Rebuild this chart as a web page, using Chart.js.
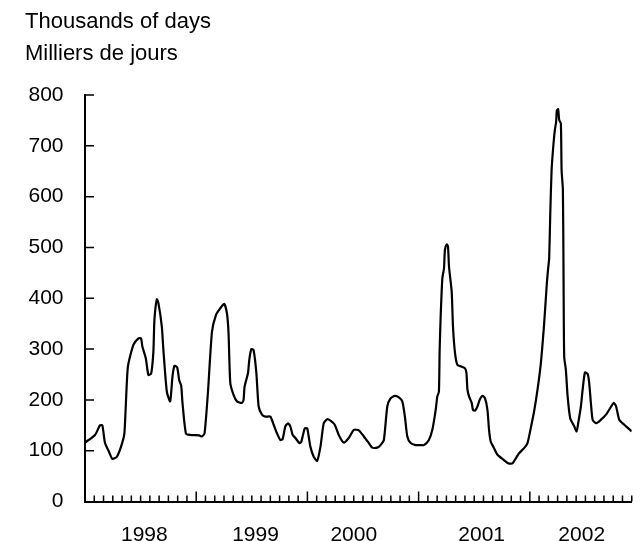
<!DOCTYPE html>
<html>
<head>
<meta charset="utf-8">
<script src="https://cdn.jsdelivr.net/npm/chart.js@4.4.1/dist/chart.umd.min.js"></script>
<style>
html, body { margin: 0; padding: 0; background: #fff; }
#wrap { width: 642px; height: 541px; position: relative; }
</style>
</head>
<body>
<div id="wrap"><canvas id="chart"></canvas></div>
<script>
// Titoli (due lingue).
const TITLE_EN = "Thousands of days";
const TITLE_FR = "Milliers de jours";

// Mesi dall'inizio del 1998 (0 = gennaio 1998).
const MONTHS = [
	0.00, 1.08, 1.62, 1.87, 2.16, 2.59, 2.95, 3.43, 3.89, 4.25, 4.62, 5.22, 5.76, 6.05, 6.19, 6.56, 6.84, 7.14, 7.38, 7.49,
	7.75, 7.92, 8.29, 8.46, 8.83, 9.19, 9.44, 9.65, 9.95, 10.16, 10.38, 10.52, 10.89, 11.35, 12.32, 12.62, 12.90, 13.26, 13.70, 14.13,
	14.59, 15.03, 15.32, 15.49, 15.68, 16.03, 16.40, 16.94, 17.11, 17.22, 17.59, 17.73, 17.95, 18.19, 18.49, 18.74, 19.10, 19.46, 20.00, 20.36,
	20.72, 21.08, 21.33, 21.62, 21.91, 22.16, 22.41, 22.70, 23.14, 23.35, 23.71, 23.97, 24.14, 24.32, 24.68, 25.05, 25.41, 25.76, 26.13, 26.49,
	26.95, 27.38, 27.92, 28.46, 29.01, 29.55, 30.09, 30.63, 31.00, 31.54, 31.89, 32.25, 32.62, 32.97, 33.44, 33.87, 34.24, 34.52, 34.78, 35.14,
	35.68, 36.22, 36.57, 37.11, 37.48, 37.84, 38.02, 38.19, 38.27, 38.38, 38.56, 38.74, 38.84, 39.03, 39.17, 39.28, 39.57, 39.71, 39.93, 40.18,
	40.54, 41.01, 41.16, 41.27, 41.44, 41.73, 41.87, 42.09, 42.35, 42.59, 42.89, 43.17, 43.43, 43.60, 43.78, 44.14, 44.51, 45.11, 45.70, 46.13,
	46.49, 46.84, 47.38, 47.75, 48.11, 48.46, 48.83, 49.19, 49.55, 49.84, 49.98, 50.09, 50.20, 50.35, 50.56, 50.70, 50.84, 50.92, 51.06, 51.17,
	51.35, 51.43, 51.57, 51.64, 51.71, 51.89, 52.08, 52.36, 52.79, 53.05, 53.22, 53.51, 53.70, 53.95, 54.24, 54.41, 54.59, 54.78, 55.14, 55.68,
	56.22, 56.68, 57.05, 57.30, 57.65, 58.19, 58.63, 58.99
];

// Migliaia di giorni persi.
const DAYS = [
	116, 131, 150, 150, 115, 98, 84, 88, 108, 134, 264, 308, 321, 321, 305, 282, 249, 252, 295, 357,
	398, 391, 344, 298, 216, 197, 246, 267, 264, 239, 228, 194, 134, 131, 130, 128, 134, 213, 334, 367,
	380, 389, 370, 331, 233, 210, 197, 194, 200, 226, 253, 279, 300, 298, 253, 187, 171, 167, 167, 151,
	134, 121, 123, 148, 154, 148, 131, 125, 115, 118, 144, 144, 128, 108, 88, 80, 108, 154, 162, 159,
	151, 131, 116, 125, 141, 140, 128, 115, 106, 106, 111, 121, 187, 203, 208, 205, 197, 167, 128, 115,
	111, 111, 111, 121, 141, 180, 207, 216, 298, 364, 439, 459, 495, 506, 502, 462, 413, 344, 292, 269,
	266, 262, 253, 220, 207, 194, 180, 179, 187, 200, 208, 203, 180, 141, 118, 105, 92, 83, 75, 75,
	85, 95, 105, 115, 145, 177, 220, 272, 351, 430, 459, 479, 561, 652, 705, 731, 747, 770, 772, 751,
	744, 652, 613, 443, 285, 259, 207, 164, 148, 138, 154, 187, 220, 254, 251, 233, 194, 161, 154, 161,
	171, 184, 194, 188, 161, 151, 144, 138
];

// Etichette degli anni e loro posizione (in mesi).
const YEAR_LABELS = ["1998", "1999", "2000", "2001", "2002"];
const YEAR_POS = [6.4, 18.4, 29.0, 42.8, 53.6];

const Y_TICKS = [0, 100, 200, 300, 400, 500, 600, 700, 800];
const LAST_MONTH = 59;

const FONT = "'Liberation Sans', Arial, Helvetica, sans-serif";

//Tacche interne degli assi e titolo.
const axisMarks = {
	id: "axisMarks",
	afterDraw(chart){
		const { ctx, chartArea, scales: { x, y } } = chart;

		ctx.save();
		ctx.strokeStyle = "#000";
		ctx.lineWidth = 1.5;
		ctx.beginPath();

		for(let m = 1; m <= LAST_MONTH; m++){
			const px = x.getPixelForValue(m);
			const len = (m % 12 == 0) ? 10 : 6;
			ctx.moveTo(px, chartArea.bottom);
			ctx.lineTo(px, chartArea.bottom - len);
		}

		Y_TICKS.forEach(v => {
			if(v == 0)
				return;
			const py = y.getPixelForValue(v);
			ctx.moveTo(chartArea.left, py);
			ctx.lineTo(chartArea.left + 9, py);
		});
		ctx.stroke();

		ctx.fillStyle = "#000";
		ctx.font = "22px " + FONT;
		ctx.textAlign = "left";
		ctx.textBaseline = "alphabetic";
		ctx.fillText(TITLE_EN, 25, 27.5);
		ctx.fillText(TITLE_FR, 25, 60);
		ctx.restore();
	}
};

new Chart(document.getElementById("chart"), {
	type: "line",
	data: {
		datasets: [{
			data: MONTHS.map((m, i) => ({ x: m, y: DAYS[i] })),
			borderColor: "#000",
			borderWidth: 2.2,
			pointRadius: 0,
			tension: 0.2,
			fill: false
		}]
	},
	options: {
		responsive: true,
		maintainAspectRatio: false,
		animation: false,
		layout: { padding: { top: 95, right: 10.25, bottom: 0, left: 0 } },
		plugins: {
			legend: { display: false },
			tooltip: { enabled: false },
			title: { display: false }
		},
		scales: {
			x: {
				type: "linear",
				min: 0,
				max: LAST_MONTH,
				afterBuildTicks: s => { s.ticks = YEAR_POS.map(v => ({ value: v })); },
				afterFit: s => { s.height = 39.5; },
				grid: { display: false, drawTicks: false },
				border: { display: true, color: "#000", width: 2 },
				ticks: {
					autoSkip: false,
					maxRotation: 0,
					padding: 21,
					color: "#000",
					font: { family: FONT, size: 21 },
					callback: (v, i) => YEAR_LABELS[i]
				}
			},
			y: {
				min: 0,
				max: 800,
				afterBuildTicks: s => { s.ticks = Y_TICKS.map(v => ({ value: v })); },
				afterFit: s => { s.width = 85; },
				grid: { display: false, drawTicks: false },
				border: { display: true, color: "#000", width: 2 },
				ticks: {
					padding: 21.5,
					color: "#000",
					font: { family: FONT, size: 21 }
				}
			}
		}
	},
	plugins: [axisMarks]
});
</script>
</body>
</html>
